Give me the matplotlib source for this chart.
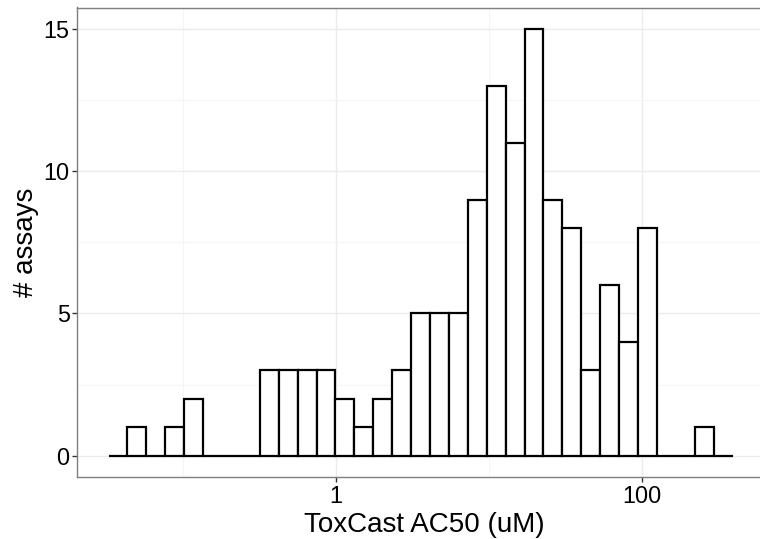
import numpy as np
import matplotlib
matplotlib.use("Agg")
from matplotlib import pyplot as plt

# Histogram counts per log10 bin
counts = [0, 1, 0, 1, 2, 0, 0, 0, 3, 3, 3, 3, 2, 1, 2, 3, 5, 5, 5,
          9, 13, 11, 15, 9, 8, 3, 6, 4, 8, 0, 0, 1, 0]
log_start = -1.4856      # log10 of the first bin's left edge (uM)
log_binwidth = 0.1236    # bin width in decades

x_ticks = [1, 100]
x_ticklabels = ["1", "100"]
y_ticks = [0, 5, 10, 15]

plt.rcParams['font.family'] = ['Liberation Sans', 'DejaVu Sans']

fig = plt.figure(figsize=(7.6, 5.39), dpi=100)
ax = fig.add_axes([77.3 / 760, (539 - 477) / 539, (760 - 77.3) / 760, (477 - 7.5) / 539])

edges = 10 ** (log_start + log_binwidth * np.arange(len(counts) + 1))
ax.bar(edges[:-1], counts, width=np.diff(edges), align='edge',
       facecolor='white', edgecolor='black', linewidth=1.6, zorder=3)

ax.set_xscale('log')
ax.set_xticks(x_ticks)
ax.set_xticklabels(x_ticklabels)
ax.set_xticks([0.1, 10], minor=True)
ax.set_xticklabels([], minor=True)
ax.set_yticks(y_ticks)
ax.set_yticks([2.5, 7.5, 12.5], minor=True)

# limits after the ticks, so the ticks don't widen them
lo, hi = log_start, log_start + log_binwidth * len(counts)
xmin = lo - 0.05 * (hi - lo)
xmax = xmin + (760 - 77.3) / 153.0   # panel is cut off at the right edge
ax.set_xlim(10 ** xmin, 10 ** xmax)
ax.set_ylim(-0.75, 15.75)

ax.grid(which='major', color='#ebebeb', linewidth=1.0, zorder=0)
ax.grid(which='minor', color='#f5f5f5', linewidth=0.8, zorder=0)
ax.tick_params(which='major', direction='out', length=3.5, width=1.0,
               color='#333333', labelsize=16.8, labelcolor='black', pad=2)
ax.tick_params(which='minor', length=0)

for s in ax.spines.values():
    s.set_color('#7f7f7f')
    s.set_linewidth(1.0)
ax.spines['right'].set_visible(False)

ax.set_xlabel("ToxCast AC50 (uM)", fontsize=20, labelpad=3)
ax.xaxis.set_label_coords(0.508, -0.075)
ax.set_ylabel("# assays", fontsize=20, labelpad=3)

fig.savefig("out.png", dpi=100)
